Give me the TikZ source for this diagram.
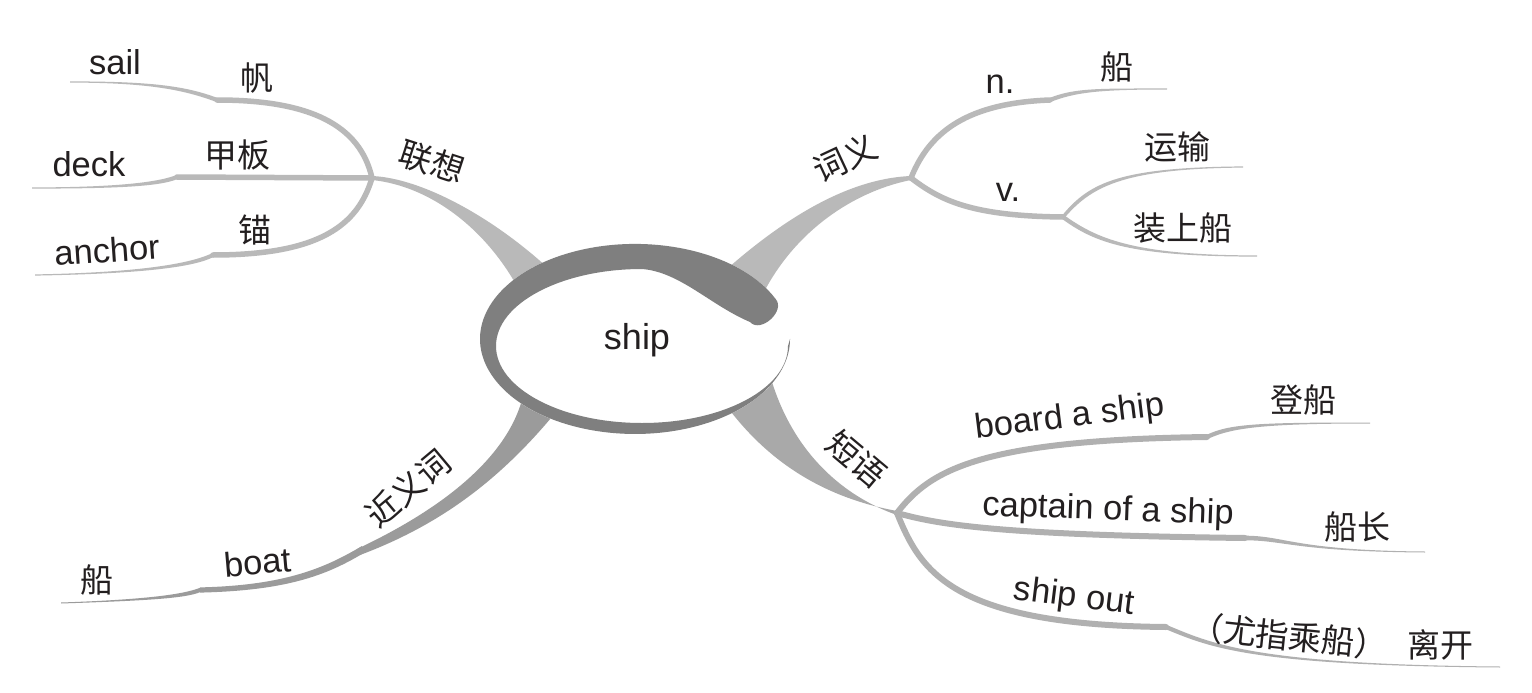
\documentclass[tikz,border=0pt]{standalone}
\usepackage{fontspec}
\setmainfont{Liberation Sans}
\newfontfamily\cjk{Noto Sans CJK SC}
\usetikzlibrary{calc}
\definecolor{ringc}{HTML}{7F7F7F}
\definecolor{lightc}{HTML}{B9B9B9}
\definecolor{phrc}{HTML}{A9A9A9}
\definecolor{phrsub}{HTML}{B0B0B0}
\definecolor{sync}{HTML}{9B9B9B}
\definecolor{txt}{HTML}{231F20}
% tapered line: start, c1, c2, end, half width at start, half width at end, colour
\newcommand\mmtaper[7]{%
  \fill[#7] ($(#1)+(0,-#5)$) .. controls ($(#2)+(0,-#5)$) and ($(#3)+(0,-#6)$) .. ($(#4)+(0,-#6)$)
    -- ($(#4)+(0,#6)$) .. controls ($(#3)+(0,#6)$) and ($(#2)+(0,#5)$) .. ($(#1)+(0,#5)$) -- cycle;}
\begin{document}
\begin{tikzpicture}[x=1pt,y=-1pt,
  en/.style={font=\fontsize{34.5}{34.5}\selectfont, text=txt, inner sep=0pt},
  zh/.style={font=\cjk\fontsize{33}{33}\selectfont, text=txt, inner sep=0pt},
  thickL/.style={draw=lightc, line width=5.5pt, line cap=round},
  thickP/.style={draw=phrsub, line width=6pt, line cap=round}]
\useasboundingbox (0,0) rectangle (1532,693);
\fill[white] (0,0) rectangle (1532,693);

% ---------- coordinates ----------
\coordinate (F1) at (372,178);
\coordinate (F2) at (911,178);
\coordinate (F3) at (1063,217);
\coordinate (F4) at (897,513);
\coordinate (Ssail) at (217,100);   \coordinate (Esail) at (70,82);
\coordinate (Sdeck) at (177,177);   \coordinate (Edeck) at (32,188);
\coordinate (Sanch) at (213,255);   \coordinate (Eanch) at (35,275);
\coordinate (Sn) at (1050,100);     \coordinate (En) at (1167,89);
\coordinate (Eyun) at (1243,167);   \coordinate (Ezh) at (1257,256);
\coordinate (Sboard) at (1207,437); \coordinate (Eboard) at (1370,423);
\coordinate (Scapt) at (1245,538);  \coordinate (Ecapt) at (1425,552);
\coordinate (Sout) at (1166,627);   \coordinate (Eout) at (1500,667);
\coordinate (Ssyn) at (362,550);    \coordinate (Sboat) at (200,590);
\coordinate (Echuan) at (61,603);

% ---------- main branches ----------
% lianxiang
\fill[lightc] (372,176) .. controls (420,178) and (490,215) .. (548,268)
  -- (518,288) .. controls (485,228) and (430,186) .. (372,180) -- cycle;
% ciyi
\fill[lightc] (911,176) .. controls (860,178) and (800,205) .. (728,268)
  -- (765,290) .. controls (800,225) and (860,190) .. (911,180) -- cycle;
% duanyu
\fill[phrc] (728,408) .. controls (760,450) and (810,495) .. (897,511)
  -- (897,515) .. controls (845,497) and (795,455) .. (772,382) -- cycle;
% jinyici
\fill[sync] (522,400) .. controls (505,460) and (440,510) .. (357,549)
  -- (360,555) .. controls (440,525) and (500,480) .. (556,412) -- cycle;

% ---------- sub branches ----------
\draw[thickL] (F1) .. controls (360,125) and (310,100) .. (Ssail);
\mmtaper{Ssail}{185,88}{150,82}{Esail}{2.2}{0.6}{lightc}
\draw[thickL] (F1) -- (Sdeck);
\mmtaper{Sdeck}{160,184}{120,188}{Edeck}{2.2}{0.6}{lightc}
\draw[thickL] (F1) .. controls (358,225) and (320,255) .. (Sanch);
\mmtaper{Sanch}{195,264}{150,273}{Eanch}{2.2}{0.6}{lightc}

\draw[thickL] (F2) .. controls (930,130) and (970,103) .. (Sn);
\mmtaper{Sn}{1075,90}{1100,89}{En}{2.2}{0.5}{lightc}
\draw[thickL] (F2) .. controls (940,200) and (970,216) .. (F3);
\mmtaper{F3}{1090,185}{1120,168}{Eyun}{2.6}{0.6}{lightc}
\mmtaper{F3}{1095,240}{1130,256}{Ezh}{2.6}{0.6}{lightc}

\draw[thickP] (F4) .. controls (930,470) and (980,440) .. (Sboard);
\mmtaper{Sboard}{1230,426}{1260,423}{Eboard}{2.3}{0.5}{phrsub}
\draw[thickP] (F4) .. controls (940,525) and (1000,535) .. (Scapt);
\mmtaper{Scapt}{1285,538}{1295,551}{Ecapt}{2.3}{0.5}{phrsub}
\draw[thickP] (F4) .. controls (920,570) and (950,625) .. (Sout);
\mmtaper{Sout}{1210,645}{1250,665}{Eout}{2.3}{0.5}{phrsub}

\mmtaper{Ssyn}{325,572}{285,588}{Sboat}{4}{2.6}{sync}
\mmtaper{Sboat}{185,596}{150,600}{Echuan}{2.2}{0.5}{sync}

% ---------- centre ----------
\fill[white] (635,339) ellipse [x radius=155, y radius=95];
\fill[ringc] (775.5,298.8) arc[start angle=335, end angle=0, x radius=155, y radius=95]
  -- (788,346) arc[start angle=0, end angle=270, x radius=146, y radius=77]
  .. controls (680,272) and (710,305) .. (750,322)
  .. controls (760.7,333.8) and (786.2,310.6) .. (775.5,298.8) -- cycle;
\node[en, font=\fontsize{36}{36}\selectfont] (ship) at (637,340) {ship};

% ---------- labels ----------
\node[zh, rotate=-18] (lx) at (432,162) {联想};
\node[en] (sail) at (115,62) {sail};
\node[zh] (fan) at (257,78) {帆};
\node[en] (deck) at (89,164) {deck};
\node[zh] (jb) at (237,155) {甲板};
\node[en, rotate=4] (anchor) at (107,250) {anchor};
\node[zh] (mao) at (255,230) {锚};

\node[zh, rotate=25] (cy) at (845,158) {词义};
\node[en] (n) at (1000,84) {n.};
\node[zh] (chuan1) at (1117,67) {船};
\node[en] (v) at (1008,192) {v.};
\node[zh] (yunshu) at (1177,147) {运输};
\node[zh] (zsc) at (1183,228) {装上船};

\node[zh, rotate=-40] (dy) at (857,459) {短语};
\node[en, rotate=7] (board) at (1070,418) {board a ship};
\node[zh] (dc) at (1303,400) {登船};
\node[en, rotate=-2] (capt) at (1108,511) {captain of a ship};
\node[zh] (cz) at (1357,527) {船长};
\node[en, rotate=-7] (shipout) at (1074,598) {ship out};
\node[zh, rotate=-6] (yz) at (1289,636) {（尤指乘船）};
\node[zh] (lk) at (1440,645) {离开};

\node[zh, rotate=40] (jyc) at (408,488) {近义词};
\node[en, rotate=5] (boat) at (258,562) {boat};
\node[zh] (chuan2) at (97,580) {船};
\end{tikzpicture}
\end{document}
